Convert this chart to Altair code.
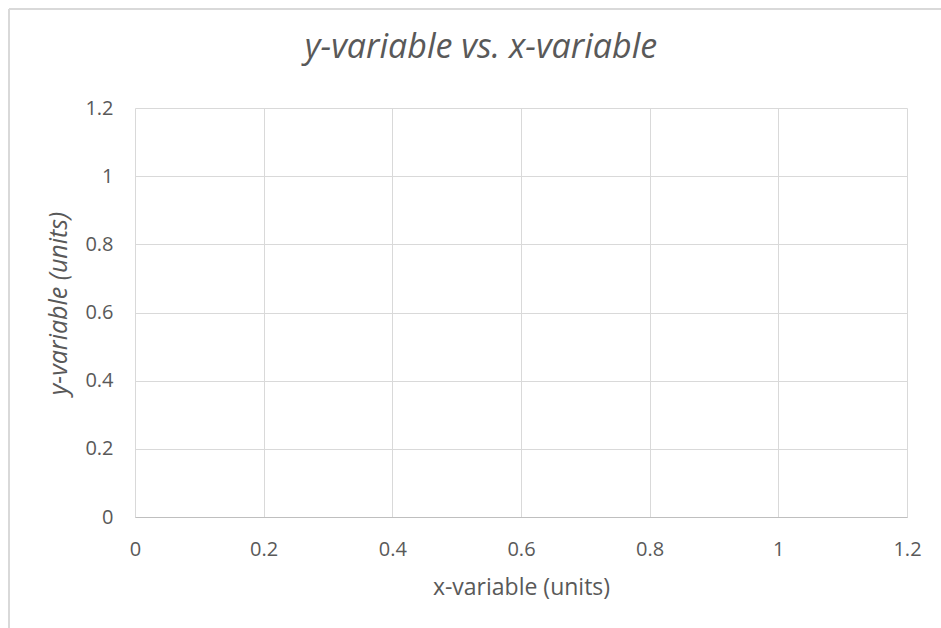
import altair as alt
import pandas as pd

x_ticks = [0, 0.2, 0.4, 0.6, 0.8, 1.0, 1.2]
y_ticks = [0, 0.2, 0.4, 0.6, 0.8, 1.0, 1.2]
x_domain = [0, 1.2]
y_domain = [0, 1.2]
title_text = "y-variable vs. x-variable"
x_title = "x-variable (units)"
y_title = "y-variable (units)"

df = pd.DataFrame({"x": x_ticks, "y": y_ticks})

TEXT = "#595959"
GRID = "#d9d9d9"
FONT = "Open Sans"

base = alt.Chart(df).mark_point(opacity=0).encode(
    x=alt.X("x:Q", scale=alt.Scale(domain=x_domain, nice=False, zero=False),
            axis=alt.Axis(values=x_ticks, title=x_title, grid=True, ticks=False,
                          domain=True, domainColor="#bfbfbf", domainWidth=1,
                          labelPadding=22, titlePadding=17, labelFlush=False,
                          titleFontSize=23,
                          labelExpr="format(datum.value, '~g')")),
    y=alt.Y("y:Q", scale=alt.Scale(domain=y_domain, nice=False, zero=False),
            axis=alt.Axis(values=y_ticks, title=y_title, grid=True, ticks=False,
                          domain=False, labelPadding=22, titlePadding=13,
                          labelFlush=False, titleFontStyle="italic",
                          titleFontSize=25, titleY=195,
                          labelExpr="format(datum.value, '~g')")),
)

border = alt.Chart(pd.DataFrame({"k": [0]})).mark_rule(color=GRID, strokeWidth=2).encode(
    x=alt.value(-126), x2=alt.value(820), y=alt.value(-99)
)
border2 = alt.Chart(pd.DataFrame({"k": [0]})).mark_rule(color=GRID, strokeWidth=2).encode(
    x=alt.value(-126), y=alt.value(-99), y2=alt.value(530)
)

chart = alt.layer(border, border2, base).properties(
    width=772, height=409,
    autosize=alt.AutoSizeParams(type="none"),
    padding={"left": 135, "top": 108, "right": 34, "bottom": 111},
    title=alt.TitleParams(title_text, fontSize=34, fontStyle="italic", font=FONT,
                          color=TEXT, fontWeight="normal", anchor="middle",
                          dx=-40, offset=-57),
).configure_view(stroke=None).configure_axis(
    gridColor=GRID, gridWidth=1, labelFont=FONT, titleFont=FONT,
    labelFontSize=20, labelColor=TEXT, titleColor=TEXT,
    titleFontWeight="normal",
)

chart.save("out.html", embed_options={"renderer": "svg", "actions": False})
